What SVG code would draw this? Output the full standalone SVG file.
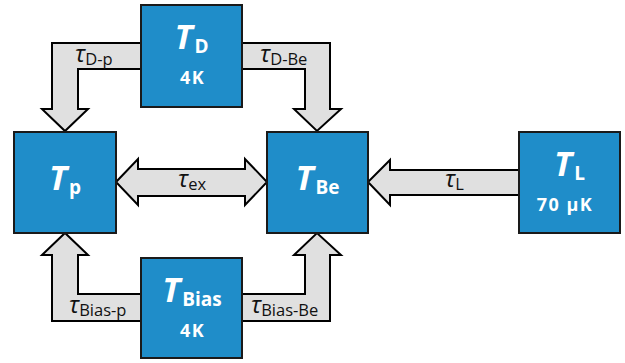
<svg xmlns="http://www.w3.org/2000/svg" width="625" height="363" viewBox="0 0 625 363">
<style>
.box{fill:#1f8dc9;stroke:#1a1a1a;stroke-width:2}
.arr{fill:#e0e0e0;stroke:#000;stroke-width:2;stroke-linejoin:miter}
.t{font-family:"Open Sans","DejaVu Sans",sans-serif;fill:#fff;font-weight:bold}
.big{font-size:34px;font-style:italic}
.sub{font-size:19px;font-style:normal}
.val{font-size:18px;letter-spacing:1.5px}
.lbl{font-family:"Open Sans","DejaVu Sans",sans-serif;fill:#111}
.tau{font-size:24px;font-style:italic}
.ls{font-size:16.5px}
</style>
<g id="connectors">
<polygon class="arr" points="141,43 52,43 52,109 42,109 65,131 88,109 78,109 78,69 141,69"/>
<polygon class="arr" points="242,43 330,43 330,109 341,109 317,131 294,109 305,109 305,69 242,69"/>
<polygon class="arr" points="116,182 138,159 138,169 245,169 245,159 267,182 245,205 245,196 138,196 138,205"/>
<polygon class="arr" points="519,170 390,170 390,160 368,182 390,205 390,195 519,195"/>
<polygon class="arr" points="141,321 52,321 52,255 42,255 65,233 88,255 78,255 78,294 141,294"/>
<polygon class="arr" points="242,321 330,321 330,255 341,255 317,233 294,255 305,255 305,294 242,294"/>
<text class="lbl" x="75" y="62"><tspan class="tau">τ</tspan><tspan class="ls" dy="3">D-p</tspan></text>
<text class="lbl" x="260" y="62"><tspan class="tau">τ</tspan><tspan class="ls" dy="3">D-Be</tspan></text>
<text class="lbl" x="178" y="187"><tspan class="tau">τ</tspan><tspan class="ls" dy="3">ex</tspan></text>
<text class="lbl" x="445" y="187"><tspan class="tau">τ</tspan><tspan class="ls" dy="3">L</tspan></text>
<text class="lbl" x="69" y="313"><tspan class="tau">τ</tspan><tspan class="ls" dy="3">Bias-p</tspan></text>
<text class="lbl" x="251" y="313"><tspan class="tau">τ</tspan><tspan class="ls" dy="3">Bias-Be</tspan></text>
</g>
<g id="TD">
<rect class="box" x="141" y="5" width="101" height="102"/>
<text class="t" x="191.5" y="49" text-anchor="middle"><tspan class="big">T</tspan><tspan class="sub" dx="2" dy="4">D</tspan></text>
<text class="t val" x="192.5" y="84" text-anchor="middle">4K</text>
</g>
<g id="Tp">
<rect class="box" x="14" y="132" width="102" height="101"/>
<text class="t" x="65" y="190" text-anchor="middle"><tspan class="big">T</tspan><tspan class="sub" dx="2" dy="4">p</tspan></text>
</g>
<g id="TBe">
<rect class="box" x="267" y="132" width="101" height="101"/>
<text class="t" x="317.5" y="190" text-anchor="middle"><tspan class="big">T</tspan><tspan class="sub" dx="2" dy="4">Be</tspan></text>
</g>
<g id="TL">
<rect class="box" x="519" y="132" width="101" height="101"/>
<text class="t" x="569.5" y="176" text-anchor="middle"><tspan class="big">T</tspan><tspan class="sub" dx="2" dy="4">L</tspan></text>
<text class="t val" x="565" y="211" text-anchor="middle">70 µK</text>
</g>
<g id="TBias">
<rect class="box" x="141" y="258" width="101" height="100"/>
<text class="t" x="192" y="302" text-anchor="middle"><tspan class="big">T</tspan><tspan class="sub" dx="2" dy="4">Bias</tspan></text>
<text class="t val" x="192.5" y="337" text-anchor="middle">4K</text>
</g>
</svg>
